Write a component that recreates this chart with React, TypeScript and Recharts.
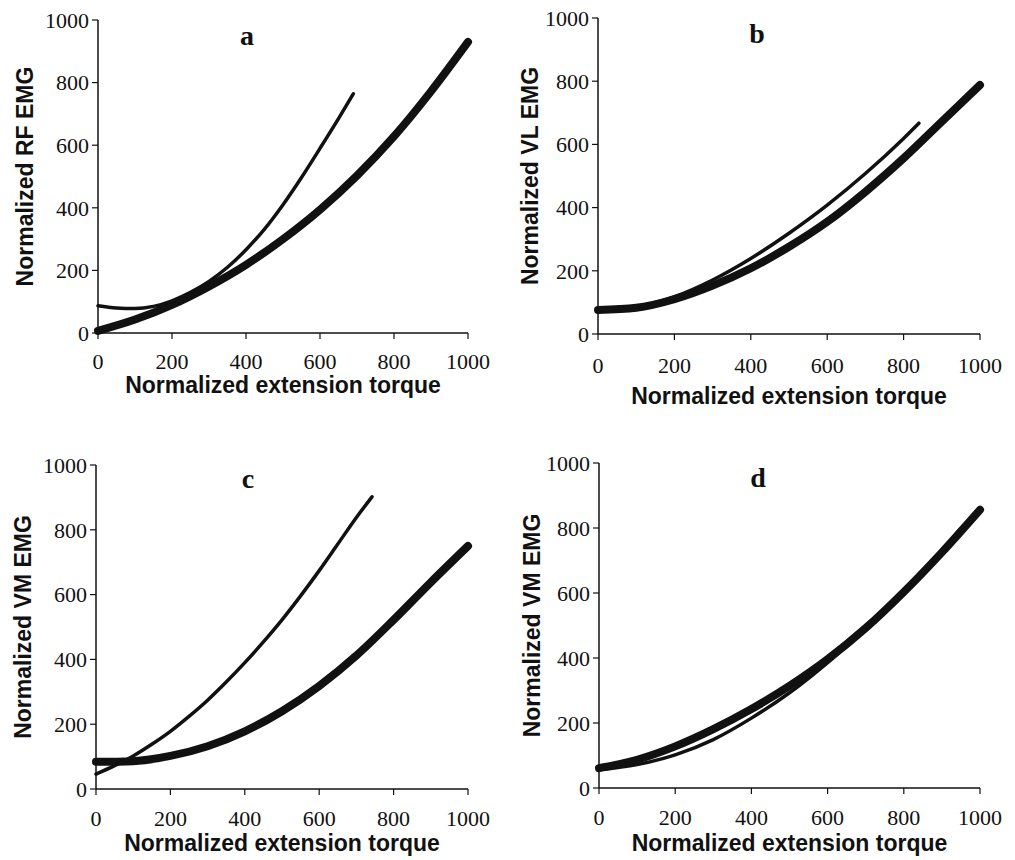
import { LineChart, Line, XAxis, YAxis } from 'recharts';

// shared axis ticks (normalized units)
const axisTicks = [0, 200, 400, 600, 800, 1000];

// panel a — RF
const aThinX = [0, 50, 100, 150, 200, 250, 300, 350, 400, 450, 500, 550, 600, 650, 690];
const aThinY = [87, 80, 78, 85, 103, 130, 165, 210, 266, 332, 410, 497, 590, 685, 764];
const aThickX = [0, 100, 200, 300, 400, 500, 600, 700, 800, 900, 1000];
const aThickY = [7, 43, 90, 149, 218, 300, 394, 503, 628, 772, 930];

// panel b — VL
const bThinX = [0, 100, 200, 300, 400, 500, 600, 700, 800, 840];
const bThinY = [76, 86, 118, 171, 239, 319, 408, 508, 619, 667];
const bThickX = [0, 100, 200, 300, 400, 500, 600, 700, 800, 900, 1000];
const bThickY = [76, 83, 110, 153, 208, 276, 355, 450, 556, 672, 788];

// panel c — VM
const cThinX = [0, 50, 100, 150, 200, 250, 300, 350, 400, 450, 500, 550, 600, 650, 700, 742];
const cThinY = [46, 72, 102, 138, 178, 224, 274, 330, 390, 454, 522, 596, 674, 756, 838, 902];
const cThickX = [0, 100, 200, 300, 400, 500, 600, 700, 800, 900, 1000];
const cThickY = [84, 86, 102, 132, 178, 240, 318, 412, 522, 638, 750];

// panel d — VM
const dThinX = [0, 100, 200, 300, 400, 500, 600, 700, 800, 900, 950];
const dThinY = [56, 72, 102, 149, 215, 293, 386, 492, 605, 730, 799];
const dThickX = [0, 100, 200, 300, 400, 500, 600, 700, 800, 900, 1000];
const dThickY = [61, 87, 128, 181, 243, 314, 396, 492, 603, 725, 856];

const xTitle = 'Normalized extension torque';

const zip = (xs: number[], ys: number[]) => xs.map((x, i) => ({ x, y: ys[i] }));

const ink = '#111';
const serif = "'Liberation Serif', 'Times New Roman', serif";
const sans = "'Liberation Sans', Arial, sans-serif";
const tickFont = { fill: ink, fontSize: 22, fontFamily: serif };
const titleFont = { fill: ink, fontSize: 23, fontWeight: 700, fontFamily: sans };

type PanelProps = {
  letter: string;
  yTitle: string;
  thin: { x: number; y: number }[];
  thick: { x: number; y: number }[];
  left: number;
  top: number;
  width: number;
  height: number;
  margin: { top: number; right: number; bottom: number; left: number };
  yWidth: number;
  xHeight: number;
  xTickMargin: number;
  xTitleOffset: number;
  yTitleOffset: number;
  letterX: number;
  letterTop: number;
};

function Panel(p: PanelProps) {
  return (
    <div style={{ position: 'absolute', left: p.left, top: p.top, width: p.width, height: p.height }}>
      <LineChart width={p.width} height={p.height} margin={p.margin} style={{ fontFamily: serif }}>
        <XAxis
          dataKey="x"
          type="number"
          domain={[0, 1000]}
          ticks={axisTicks}
          interval={0}
          height={p.xHeight}
          tick={tickFont}
          fontSize={22}
          fontFamily={serif}
          tickSize={6}
          tickMargin={p.xTickMargin}
          axisLine={{ stroke: ink, strokeWidth: 1.5 }}
          tickLine={{ stroke: ink, strokeWidth: 1.2 }}
          label={{ value: xTitle, position: 'insideBottom', offset: p.xTitleOffset, style: titleFont }}
        />
        <YAxis
          type="number"
          domain={[0, 1000]}
          ticks={axisTicks}
          interval={0}
          width={p.yWidth}
          tick={tickFont}
          fontSize={22}
          fontFamily={serif}
          tickSize={6}
          tickMargin={3}
          axisLine={{ stroke: ink, strokeWidth: 1.5 }}
          tickLine={{ stroke: ink, strokeWidth: 1.2 }}
          label={{
            value: p.yTitle,
            angle: -90,
            position: 'insideLeft',
            offset: p.yTitleOffset,
            style: { ...titleFont, textAnchor: 'middle' },
          }}
        />
        <Line
          data={p.thick}
          dataKey="y"
          type="monotone"
          stroke={ink}
          strokeWidth={8}
          strokeLinecap="round"
          dot={false}
          isAnimationActive={false}
        />
        <Line
          data={p.thin}
          dataKey="y"
          type="monotone"
          stroke={ink}
          strokeWidth={3.5}
          strokeLinecap="round"
          dot={false}
          isAnimationActive={false}
        />
      </LineChart>
      <div
        style={{
          position: 'absolute',
          left: p.letterX,
          top: p.letterTop,
          transform: 'translateX(-50%)',
          fontFamily: serif,
          fontWeight: 700,
          fontSize: 28,
          lineHeight: 1,
          color: ink,
        }}
      >
        {p.letter}
      </div>
    </div>
  );
}

export default function App() {
  return (
    <div style={{ position: 'absolute', left: 0, top: 0, width: 1015, height: 860, background: '#fff' }}>
      <Panel
        letter="a"
        yTitle="Normalized RF EMG"
        thin={zip(aThinX, aThinY)}
        thick={zip(aThickX, aThickY)}
        left={0}
        top={0}
        width={500}
        height={430}
        margin={{ top: 20, right: 32, bottom: 35, left: 8 }}
        yWidth={90}
        xHeight={62}
        xTickMargin={14}
        xTitleOffset={2}
        yTitleOffset={17}
        letterX={247}
        letterTop={22}
      />
      <Panel
        letter="b"
        yTitle="Normalized VL EMG"
        thin={zip(bThinX, bThinY)}
        thick={zip(bThickX, bThickY)}
        left={500}
        top={0}
        width={515}
        height={430}
        margin={{ top: 18, right: 35, bottom: 24, left: 8 }}
        yWidth={90}
        xHeight={72}
        xTickMargin={17}
        xTitleOffset={2}
        yTitleOffset={22}
        letterX={257}
        letterTop={20}
      />
      <Panel
        letter="c"
        yTitle="Normalized VM EMG"
        thin={zip(cThinX, cThinY)}
        thick={zip(cThickX, cThickY)}
        left={0}
        top={430}
        width={500}
        height={430}
        margin={{ top: 35, right: 32, bottom: 8, left: 8 }}
        yWidth={88}
        xHeight={63}
        xTickMargin={15}
        xTitleOffset={1}
        yTitleOffset={15}
        letterX={248}
        letterTop={35}
      />
      <Panel
        letter="d"
        yTitle="Normalized VM EMG"
        thin={zip(dThinX, dThinY)}
        thick={zip(dThickX, dThickY)}
        left={500}
        top={430}
        width={515}
        height={430}
        margin={{ top: 33, right: 35, bottom: 8, left: 8 }}
        yWidth={91}
        xHeight={64}
        xTickMargin={15}
        xTitleOffset={1}
        yTitleOffset={24}
        letterX={258}
        letterTop={34}
      />
    </div>
  );
}
